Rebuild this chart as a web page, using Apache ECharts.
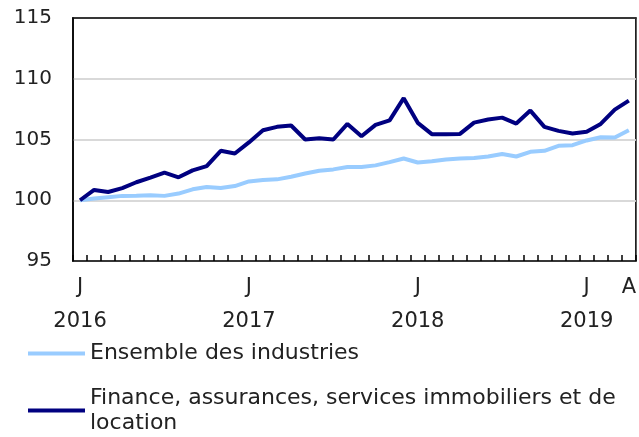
<!DOCTYPE html>
<html>
<head>
<meta charset="utf-8">
<script src="https://cdn.jsdelivr.net/npm/echarts@6/dist/echarts.min.js"></script>
<style>
  html, body { margin: 0; padding: 0; background: #fff; }
  #chart { width: 639px; height: 437px; }
</style>
</head>
<body>
<div id="chart"></div>
<script>
// monthly, Jan 2016 .. Apr 2019
const months = []
for (let y = 2016; y <= 2019; y++) {
  for (let m = 1; m <= 12; m++) {
    if (y === 2019 && m > 4) break
    months.push(y + '-' + String(m).padStart(2, '0'))
  }
}

const tickLabels = {
  '2016-01': 'J\n2016',
  '2017-01': 'J\n2017',
  '2018-01': 'J\n2018',
  '2019-01': 'J\n2019',
  '2019-04': 'A',
}

const ensemble = [
  100.0, 100.14, 100.25, 100.36, 100.38, 100.41, 100.36, 100.55, 100.9, 101.09, 101.0, 101.17,
  101.55, 101.67, 101.72, 101.94, 102.2, 102.43, 102.54, 102.73, 102.73, 102.87, 103.14, 103.44,
  103.11, 103.21, 103.36, 103.44, 103.47, 103.6, 103.8, 103.6, 103.99, 104.07, 104.48, 104.53,
  104.92, 105.19, 105.16, 105.76,
]

const finance = [
  100.0, 100.85, 100.68, 101.0, 101.48, 101.86, 102.27, 101.89, 102.46, 102.81, 104.07, 103.85,
  104.76, 105.76, 106.04, 106.15, 105.0, 105.1, 105.0, 106.28, 105.27, 106.2, 106.58, 108.4,
  106.37, 105.44, 105.44, 105.46, 106.39, 106.64, 106.8, 106.31, 107.38, 106.04, 105.71, 105.49,
  105.63, 106.28, 107.46, 108.2,
]

const NAME_ALL = 'Ensemble des industries'
const NAME_FIN = 'Finance, assurances, services immobiliers et de location'

const FONT = '"DejaVu Sans", Verdana, sans-serif'
const LIGHT = '#99ccff'
const DARK = '#000080'

const chart = echarts.init(document.getElementById('chart'), null, { renderer: 'canvas' })

const legendBase = {
  orient: 'vertical',
  left: 28, padding: 0,
  itemWidth: 57, itemHeight: 4, icon: 'rect',
}

chart.setOption({
  animation: false,
  textStyle: { fontFamily: FONT },
  grid: {
    left: 73, right: 1, top: 18, bottom: 176,
    show: true, borderColor: '#000', borderWidth: 1.5,
  },
  legend: [
    {
      ...legendBase,
      data: [NAME_ALL],
      top: 341,
      textStyle: { fontSize: 22, color: '#222', fontFamily: FONT, lineHeight: 25 },
    },
    {
      ...legendBase,
      data: [NAME_FIN],
      top: 373,
      formatter: () => 'Finance, assurances, services immobiliers et de\nlocation',
      textStyle: { fontSize: 22, color: '#222', fontFamily: FONT, lineHeight: 25, padding: [25, 0, 0, 0] },
    },
  ],
  xAxis: [
    {
      type: 'category',
      data: months,
      boundaryGap: true,
      axisLine: { lineStyle: { color: '#000', width: 1.5 } },
      axisTick: { show: true, inside: true, length: 6, interval: 0, lineStyle: { color: '#000', width: 1.5 } },
      axisLabel: {
        interval: 0,
        margin: 10,
        fontSize: 21,
        lineHeight: 34,
        color: '#222',
        fontFamily: FONT,
        formatter: v => tickLabels[v] || '',
      },
      splitLine: { show: false },
    },
    {
      // top frame line
      type: 'category',
      data: months,
      position: 'top',
      axisLine: { lineStyle: { color: '#000', width: 1.5 } },
      axisTick: { show: false },
      axisLabel: { show: false },
      splitLine: { show: false },
    },
  ],
  yAxis: {
    type: 'value',
    min: 95, max: 115, interval: 5,
    axisLine: { show: true, lineStyle: { color: '#000', width: 1.5 } },
    axisTick: { show: false },
    axisLabel: { margin: 21, fontSize: 20, color: '#222', fontFamily: FONT },
    splitLine: { lineStyle: { color: '#d9d9d9', width: 2 } },
  },
  series: [
    {
      name: NAME_ALL,
      type: 'line',
      data: ensemble,
      symbol: 'none',
      lineStyle: { color: LIGHT, width: 4 },
      itemStyle: { color: LIGHT },
    },
    {
      name: NAME_FIN,
      type: 'line',
      data: finance,
      symbol: 'none',
      lineStyle: { color: DARK, width: 4 },
      itemStyle: { color: DARK },
    },
  ],
})
</script>
</body>
</html>
